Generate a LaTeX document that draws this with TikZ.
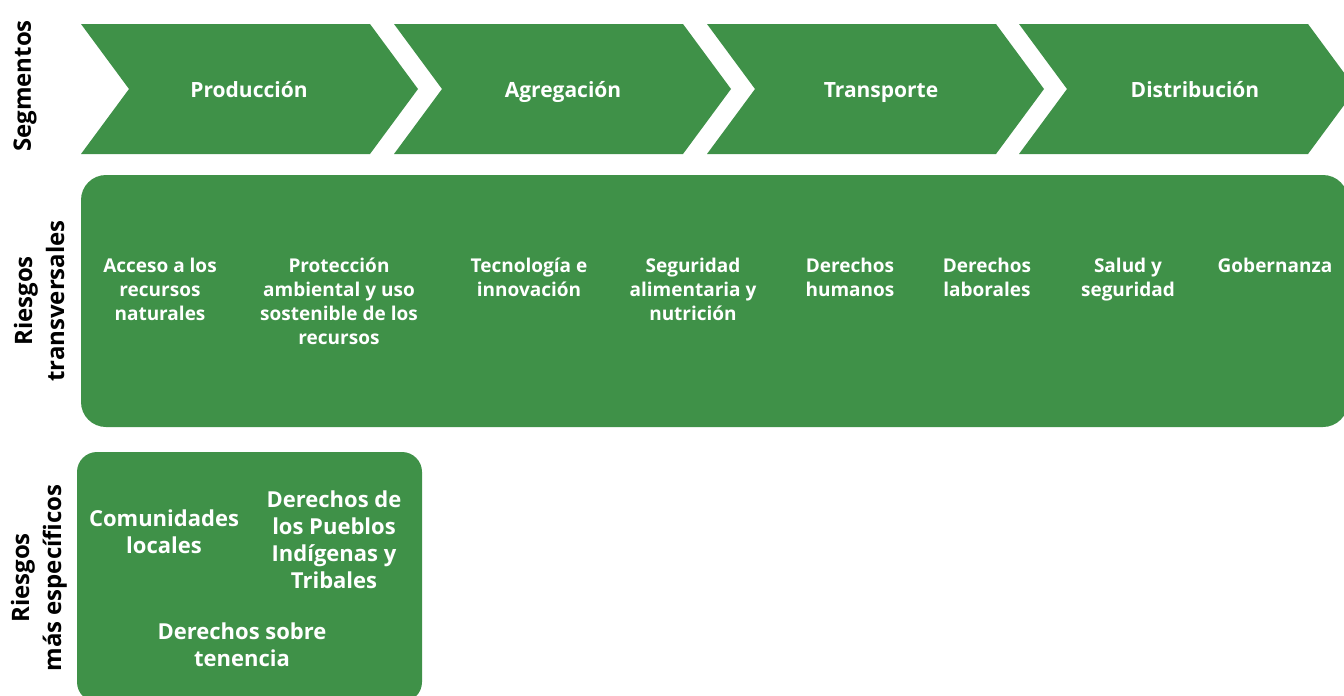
\documentclass[tikz,border=0pt]{standalone}
\usepackage{fontspec}
\setmainfont{Open Sans}
\usetikzlibrary{positioning}
\definecolor{riskgreen}{RGB}{63,145,72}

\begin{document}
\begin{tikzpicture}[x=1pt,y=-1pt,
		seg/.style={fill=riskgreen},
		seg label/.style={text=white,anchor=base,inner sep=0pt,font=\fontsize{21}{25}\selectfont\bfseries},
		risk box/.style={fill=riskgreen},
		risk label/.style={text=white,align=center,anchor=north,inner sep=0pt,
			font=\fontsize{19}{24}\selectfont\bfseries},
		specific label/.style={text=white,align=center,inner sep=0pt,
			font=\fontsize{22}{27}\selectfont\bfseries},
		side label/.style={rotate=90,align=center,inner sep=0pt,
			font=\fontsize{24}{32}\selectfont\bfseries}]
	
	\useasboundingbox (0,0) rectangle (1344,696);
	\clip (0,0) rectangle (1344,696);
	
	% segmentos
	\foreach \x/\cx/\name/\lab in {81/249/prod/Producción, 394/563/agre/Agregación,
		707/881/trans/Transporte, 1019/1195/dist/Distribución}{
		\fill[seg] (\x,24) -- ++(289,0) -- ++(48,65) -- ++(-48,65) -- ++(-289,0) -- ++(48,-65) -- cycle;
		\node[seg label] (\name) at (\cx,97) {\lab};
	}
	
	% riesgos transversales
	\fill[risk box,rounded corners=25pt] (81,175) rectangle (1348,427);
	\node[risk label] (acceso) at (160,258) {Acceso a los\\recursos\\naturales};
	\node[risk label] (proteccion) at (339,258) {Protección\\ambiental y uso\\sostenible de los\\recursos};
	\node[risk label] (tecnologia) at (529,258) {Tecnología e\\innovación};
	\node[risk label] (seguridad) at (693,258) {Seguridad\\alimentaria y\\nutrición};
	\node[risk label] (humanos) at (850,258) {Derechos\\humanos};
	\node[risk label] (laborales) at (987,258) {Derechos\\laborales};
	\node[risk label] (salud) at (1128,258) {Salud y\\seguridad};
	\node[risk label] (gobernanza) at (1275,258) {Gobernanza};
	
	% riesgos especificos
	\fill[risk box,rounded corners=20pt] (77,452) rectangle (422,702);
	\node[specific label] (comunidades) at (164,532) {Comunidades\\locales};
	\node[specific label] (pueblos) at (334,540) {Derechos de\\los Pueblos\\Indígenas y\\Tribales};
	\node[specific label] (tenencia) at (242,645) {Derechos sobre\\tenencia};
	
	% etiquetas laterales
	\node[side label] (segmentos) at (25,86) {Segmentos};
	\node[side label] (transversales) at (39,301) {Riesgos\\transversales};
	\node[side label] (especificos) at (39,578) {Riesgos\\más específicos};
	
\end{tikzpicture}
\end{document}
